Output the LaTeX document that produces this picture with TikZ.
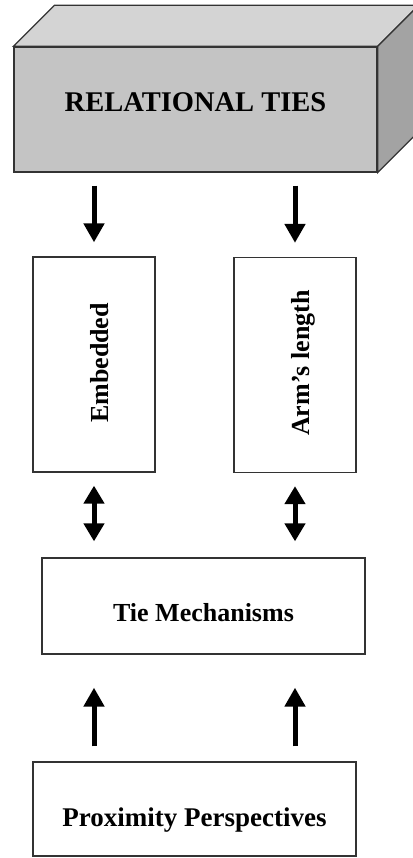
\documentclass[tikz,border=0pt]{standalone}
\usepackage{fontspec}
\setmainfont{Liberation Serif}
\usetikzlibrary{arrows.meta}

\begin{document}
\begin{tikzpicture}[x=1pt, y=-1pt,
  box/.style={draw=black!80, line width=1.3pt, fill=white},
  lbl/.style={font=\fontsize{26}{30}\selectfont\bfseries},
  arr/.style={line width=5pt, -{Triangle[width=20pt, length=19pt]}},
  dblarr/.style={line width=5pt, {Triangle[width=20pt, length=18pt]}-{Triangle[width=20pt, length=18pt]}}]
\useasboundingbox (0,0) rectangle (412,858); %page size
\node[box, fill=black!23, minimum width=363pt, minimum height=125pt, font=\fontsize{28.5}{32}\selectfont\bfseries, text depth=14pt] (ties) at (195.5,109.5) {RELATIONAL TIES}; %front of the block
\draw[black!80, line width=1.3pt, fill=black!17] (ties.north west) -- ([shift={(41,-41)}]ties.north west) -- ([shift={(41,-41)}]ties.north east) -- (ties.north east) -- cycle; %top of the block
\draw[black!80, line width=1.3pt, fill=black!36] (ties.north east) -- ([shift={(41,-41)}]ties.north east) -- ([shift={(41,-41)}]ties.south east) -- (ties.south east) -- cycle; %side of the block
\node[box, minimum width=122pt, minimum height=215pt] (emb) at (94,364.5) {}; %left box
\node[box, minimum width=122pt, minimum height=215pt] (arm) at (295,365) {}; %right box
\node[lbl, rotate=90] (embtext) at (100,363) {Embedded}; %label of left box
\node[lbl, rotate=90] (armtext) at (303,363) {Arm’s length}; %label of right box
\node[box, lbl, minimum width=323pt, minimum height=96pt, text height=31pt, text depth=0pt] (tie) at (203.5,606) {Tie Mechanisms};
\node[box, lbl, font=\fontsize{27}{30}\selectfont\bfseries, minimum width=323pt, minimum height=94pt, text height=35pt, text depth=0pt] (prox) at (194.5,809) {Proximity Perspectives};
\draw[arr, shorten <=13pt, shorten >=14pt] (ties.south -| emb) -- (emb.north); %down arrows
\draw[arr, shorten <=13pt, shorten >=14pt] (ties.south -| arm) -- (arm.north);
\draw[dblarr, shorten <=13pt, shorten >=16pt] (emb.south) -- (emb.south |- tie.north); %double arrows
\draw[dblarr, shorten <=13pt, shorten >=16pt] (arm.south) -- (arm.south |- tie.north);
\draw[arr, shorten <=15pt, shorten >=33pt] (prox.north -| emb) -- (emb |- tie.south); %up arrows
\draw[arr, shorten <=15pt, shorten >=33pt] (prox.north -| arm) -- (arm |- tie.south);
\end{tikzpicture}
\end{document}
